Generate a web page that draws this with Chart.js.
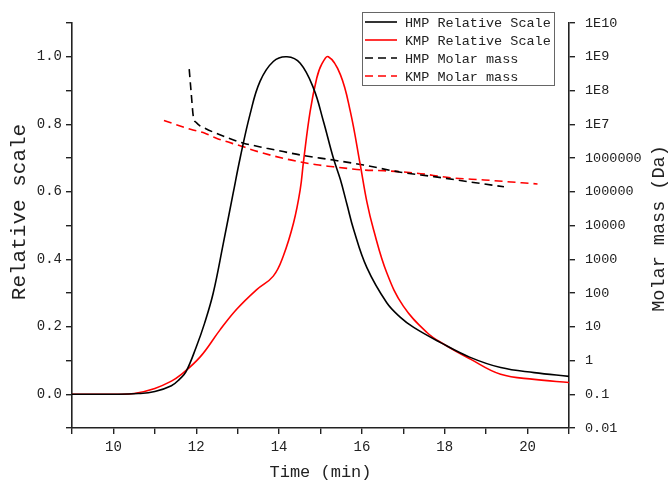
<!DOCTYPE html>
<html>
<head>
<meta charset="utf-8">
<script src="https://cdn.jsdelivr.net/npm/chart.js@4/dist/chart.umd.min.js"></script>
<style>
  html, body { margin: 0; padding: 0; background: #fff; }
  #wrap { width: 670px; height: 487px; }
</style>
</head>
<body>
<div id="wrap"><canvas id="gpcChart" width="670" height="487"></canvas></div>
<script>
// Tiempos (min) y señales normalizadas
var hmpTime = [9, 10, 10.6, 11.0, 11.4, 11.6, 11.75, 12.0, 12.2, 12.41, 12.65, 12.89, 13.06, 13.3, 13.54, 13.86, 14.19, 14.51, 14.83, 15.07, 15.31, 15.48, 15.64, 15.8, 16.12, 16.6, 16.93, 17.25, 17.9, 18.6, 19.35, 20.16, 21];
var hmpRel = [0, 0, 0.002, 0.008, 0.025, 0.045, 0.066, 0.14, 0.21, 0.3, 0.445, 0.595, 0.7, 0.83, 0.927, 0.986, 1.0, 0.981, 0.907, 0.809, 0.70, 0.636, 0.562, 0.488, 0.375, 0.271, 0.228, 0.198, 0.153, 0.11, 0.079, 0.064, 0.053];

var kmpTime = [9, 10, 10.5, 11.0, 11.4, 11.6, 12.09, 12.57, 12.97, 13.46, 13.86, 14.1, 14.35, 14.51, 14.59, 14.75, 14.91, 15.03, 15.19, 15.48, 15.72, 15.96, 16.12, 16.28, 16.6, 17.0, 17.57, 17.98, 18.62, 19.35, 20.16, 21];
var kmpRel = [0, 0, 0.002, 0.017, 0.039, 0.055, 0.11, 0.19, 0.251, 0.31, 0.35, 0.409, 0.508, 0.606, 0.69, 0.838, 0.937, 0.978, 1.0, 0.947, 0.838, 0.68, 0.57, 0.488, 0.36, 0.261, 0.183, 0.148, 0.104, 0.059, 0.044, 0.035];

// Masa molar (Da)
var hmpMassTime = [11.83, 11.88, 11.93, 12.0, 12.09, 12.21, 12.29, 12.9, 13.14, 13.7, 14.1, 14.51, 15.31, 16.04, 16.93, 17.74, 18.55, 19.43];
var hmpMass = [4.3e8, 7.9e7, 1.66e7, 1.12e7, 8.9e6, 7.6e6, 6.8e6, 3.4e6, 2.75e6, 1.95e6, 1.55e6, 1.23e6, 8.7e5, 6.2e5, 3.8e5, 2.8e5, 2.0e5, 1.4e5];

var kmpMassTime = [11.22, 11.86, 12.21, 12.5, 13.14, 13.3, 14.1, 14.91, 15.31, 15.72, 16.04, 16.53, 17.33, 18.14, 18.95, 19.6, 20.24];
var kmpMass = [1.29e7, 7.1e6, 5.4e6, 3.8e6, 2.14e6, 1.82e6, 9.8e5, 6.3e5, 5.5e5, 4.8e5, 4.4e5, 4.2e5, 3.55e5, 2.6e5, 2.24e5, 1.95e5, 1.7e5];

// Etiquetas del eje derecho (décadas)
var massTicks = [0.01, 0.1, 1, 10, 100, 1000, 10000, 100000, 1000000, 1e7, 1e8, 1e9, 1e10];
var massTickLabels = ['0.01', '0.1', '1', '10', '100', '1000', '10000', '100000', '1000000', '1E7', '1E8', '1E9', '1E10'];

var FONT = '"Liberation Mono", "DejaVu Sans Mono", monospace';
var AXIS = '#222';

function pts(xs, ys) {
    return xs.map(function(x, i) { return { x: x, y: ys[i] }; });
}

// Leyenda dentro del área del gráfico
var legendBox = {
    id: 'legendBox',
    afterDraw: function(chart) {
        var ctx = chart.ctx;
        var x0 = 362, y0 = 12, w = 192, h = 73;
        ctx.save();
        ctx.fillStyle = '#fff';
        ctx.fillRect(x0, y0, w, h);
        ctx.strokeStyle = '#666';
        ctx.lineWidth = 1;
        ctx.strokeRect(x0 + 0.5, y0 + 0.5, w, h);
        ctx.font = '13.5px ' + FONT;
        ctx.textBaseline = 'middle';
        chart.data.datasets.forEach(function(ds, i) {
            var y = 22 + i * 18;
            ctx.strokeStyle = ds.borderColor;
            ctx.lineWidth = 1.6;
            ctx.setLineDash(ds.borderDash || []);
            ctx.beginPath();
            ctx.moveTo(365, y);
            ctx.lineTo(397, y);
            ctx.stroke();
            ctx.setLineDash([]);
            ctx.fillStyle = '#222';
            ctx.fillText(ds.label, 405, y + 1);
        });
        ctx.restore();
    }
};

// Títulos de los ejes verticales (ambos leídos de abajo hacia arriba)
var sideTitles = {
    id: 'sideTitles',
    afterDraw: function(chart) {
        var ctx = chart.ctx;
        var area = chart.chartArea;
        ctx.save();
        ctx.fillStyle = '#222';
        ctx.textAlign = 'center';
        ctx.textBaseline = 'middle';

        ctx.save();
        ctx.translate(19, 212);
        ctx.rotate(-Math.PI / 2);
        ctx.font = '21px ' + FONT;
        ctx.fillText('Relative scale', 0, 0);
        ctx.restore();

        ctx.translate(659, (area.top + area.bottom) / 2 + 3);
        ctx.rotate(-Math.PI / 2);
        ctx.font = '18.5px ' + FONT;
        ctx.fillText('Molar mass (Da)', 0, 0);
        ctx.restore();
    }
};

var ctx = document.getElementById('gpcChart').getContext('2d');
var gpcChart = new Chart(ctx, {
    type: 'line',
    data: {
        datasets: [{
            label: 'HMP Relative Scale',
            data: pts(hmpTime, hmpRel),
            borderColor: '#000',
            cubicInterpolationMode: 'default',
            tension: 0.4,
            yAxisID: 'y'
        }, {
            label: 'KMP Relative Scale',
            data: pts(kmpTime, kmpRel),
            borderColor: '#ff0000',
            cubicInterpolationMode: 'default',
            tension: 0.4,
            yAxisID: 'y'
        }, {
            label: 'HMP Molar mass',
            data: pts(hmpMassTime, hmpMass),
            borderColor: '#000',
            borderDash: [8, 5],
            yAxisID: 'y2'
        }, {
            label: 'KMP Molar mass',
            data: pts(kmpMassTime, kmpMass),
            borderColor: '#ff0000',
            borderDash: [8, 5],
            yAxisID: 'y2'
        }]
    },
    options: {
        responsive: false,
        animation: false,
        layout: { padding: { top: 23, left: 0, right: 0, bottom: 0 } },
        elements: {
            point: { radius: 0 },
            line: { borderWidth: 1.6, cubicInterpolationMode: 'monotone', fill: false }
        },
        plugins: {
            legend: { display: false },
            tooltip: { enabled: false }
        },
        scales: {
            x: {
                type: 'linear',
                min: 9,
                max: 21,
                afterFit: function(scale) { scale.height = 59; },
                border: { display: true, color: AXIS, width: 1.6 },
                grid: { drawOnChartArea: false, drawTicks: true, tickLength: 6, color: AXIS, lineWidth: 1.4 },
                ticks: {
                    stepSize: 1,
                    padding: 5,
                    maxRotation: 0,
                    autoSkip: false,
                    color: '#222',
                    font: { family: FONT, size: 14 },
                    callback: function(v) { return v % 2 === 0 ? String(v) : ''; }
                },
                title: {
                    display: true,
                    text: 'Time (min)',
                    color: '#222',
                    font: { family: FONT, size: 17 },
                    padding: { top: 0, bottom: 4 }
                }
            },
            y: {
                type: 'linear',
                position: 'left',
                min: -0.1,
                max: 1.1,
                afterFit: function(scale) { scale.width = 72; },
                border: { display: true, color: AXIS, width: 1.6 },
                grid: { drawOnChartArea: false, drawTicks: true, tickLength: 6, color: AXIS, lineWidth: 1.4 },
                ticks: {
                    stepSize: 0.1,
                    padding: 4,
                    autoSkip: false,
                    color: '#222',
                    font: { family: FONT, size: 14 },
                    callback: function(v) {
                        var k = Math.round(v * 10);
                        if (k < 0 || k > 10 || k % 2 !== 0) return '';
                        return (k / 10).toFixed(1);
                    }
                }
            },
            y2: {
                type: 'logarithmic',
                position: 'right',
                min: 0.01,
                max: 1e10,
                afterFit: function(scale) { scale.width = 101; },
                afterBuildTicks: function(scale) {
                    scale.ticks = massTicks.map(function(v) { return { value: v }; });
                },
                border: { display: true, color: AXIS, width: 1.6 },
                grid: { drawOnChartArea: false, drawTicks: true, tickLength: 6, color: AXIS, lineWidth: 1.4 },
                ticks: {
                    padding: 10,
                    autoSkip: false,
                    color: '#222',
                    font: { family: FONT, size: 13.5 },
                    callback: function(v) {
                        var i = massTicks.indexOf(v);
                        return i >= 0 ? massTickLabels[i] : '';
                    }
                }
            }
        }
    },
    plugins: [legendBox, sideTitles]
});
</script>
</body>
</html>
